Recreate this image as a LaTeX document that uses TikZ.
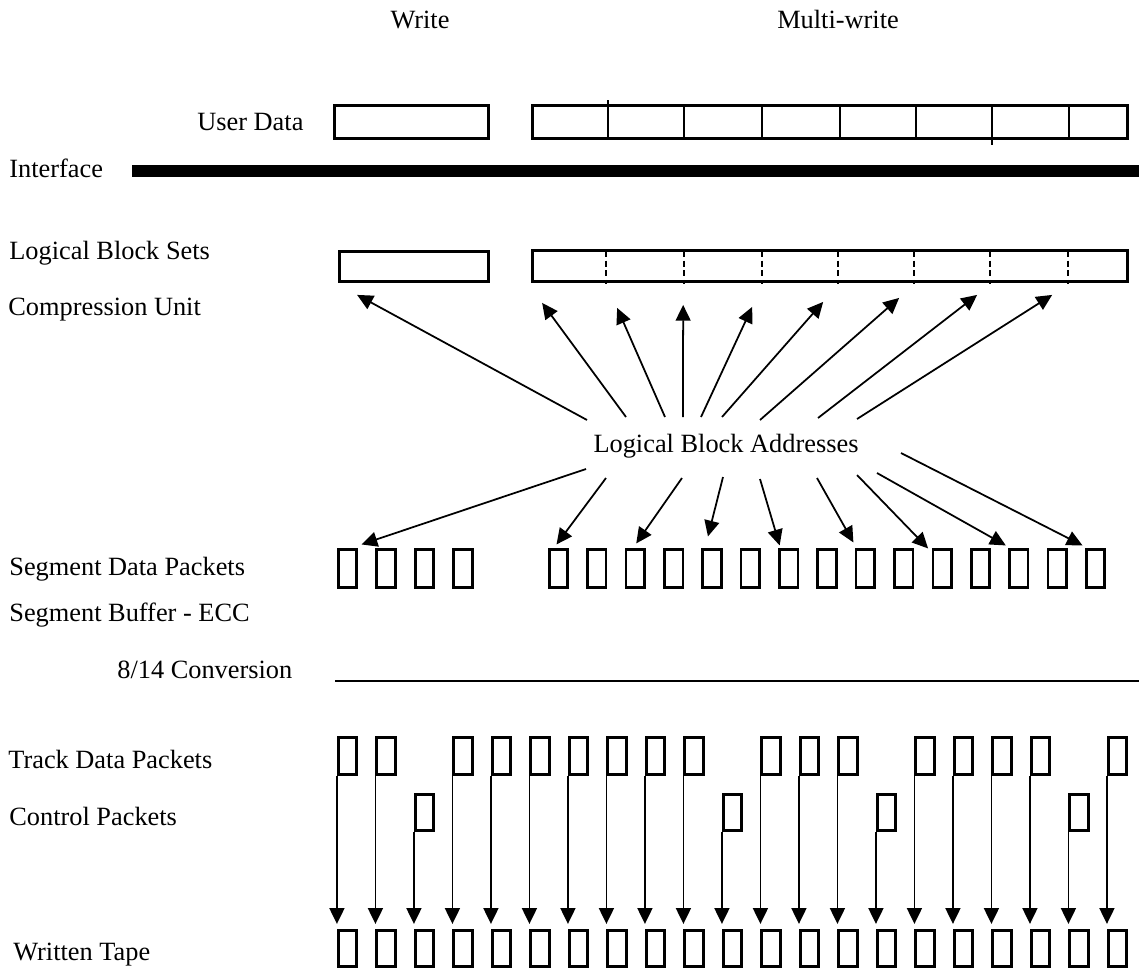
\documentclass[tikz,border=0pt]{standalone}
\usepackage{fontspec}
\setmainfont{Liberation Serif}
\usetikzlibrary{arrows.meta, calc}

\tikzset{
	lbl/.style={anchor=base west, inner sep=0pt, font=\fontsize{15}{18}\selectfont},
	hdr/.style={anchor=base, inner sep=0pt, font=\fontsize{15}{18}\selectfont},
	setbox/.style={draw, rectangle, line width=1.6pt, inner sep=0pt},
	pkt/.style={draw, rectangle, line width=1.5pt, inner sep=0pt, minimum width=0.37cm, minimum height=0.73cm},
	arr/.style={line width=1pt, -{Triangle[width=8.5pt, length=9pt]}},
}

\begin{document}
\begin{tikzpicture}[x=0.02cm, y=-0.02cm]
	\useasboundingbox (0,0) rectangle (1139,971);
	% Labels:
	\node[hdr] (hwrite) at (420,28) {Write};
	\node[hdr] (hmulti) at (838,28) {Multi-write};
	\node[lbl] (userdata) at (197,130) {User Data};
	\node[lbl] (iface) at (9,177) {Interface};
	\node[lbl] (lbsets) at (9,259) {Logical Block Sets};
	\node[lbl] (compr) at (8,315) {Compression Unit};
	\node[hdr] (lba) at (726,452) {Logical Block Addresses};
	\node[lbl] (segdata) at (9,575) {Segment Data Packets};
	\node[lbl] (segbuf) at (9,621) {Segment Buffer - ECC};
	\node[lbl] (conv) at (117,678) {8/14 Conversion};
	\node[lbl] (trkdata) at (8,768) {Track Data Packets};
	\node[lbl] (ctrl) at (9,825) {Control Packets};
	\node[lbl] (tape) at (13,960) {Written Tape};
	% User data and logical block sets:
	\node[setbox, minimum width=3.08cm, minimum height=0.66cm] (udw) at (411.5,122) {};
	\node[setbox, minimum width=11.9cm, minimum height=0.66cm] (udm) at (830,122) {};
	\foreach \dx in {684,762,840,916,1069}
		\draw[line width=1.6pt] (\dx,104) -- (\dx,140);
	\draw[line width=1.6pt] (608,100) -- (608,140);
	\draw[line width=1.6pt] (992,106) -- (992,145);
	\fill (132,165) rectangle (1139,177);
	\node[setbox, minimum width=2.98cm, minimum height=0.6cm] (lbsw) at (414,266.5) {};
	\node[setbox, minimum width=11.9cm, minimum height=0.62cm] (lbsm) at (830,266) {};
	\foreach \dx in {606,684,762,838,914,990,1068}
		\draw[line width=1.2pt, dash pattern=on 3.5pt off 2pt] (\dx,251) -- (\dx,284);
	% Arrows from the addresses:
	\draw[arr] ($(lba.base)+(-139,-32)$) -- ($(lbsw.south west)+(19,12)$);
	\foreach \tx/\ty/\hx/\hy in {-100/-35/11/20, -61/-35/86/25, -43/-35/152/22, -25/-35/221/24, -4/-35/292/19, 34/-32/368/15, 92/-34/446/12, 131/-33/521/12}
		\draw[arr] ($(lba.base)+(\tx,\ty)$) -- ($(lbsm.south west)+(\hx,\hy)$);
	% Segment data packets:
	\foreach \j in {1,...,4}
		\node[pkt, minimum height=0.75cm] (segw\j) at ({347.5+38.5*(\j-1)},568.5) {};
	\foreach \k in {1,...,15}
		\node[pkt, minimum height=0.75cm] (segm\k) at ({558.5+38.36*(\k-1)},568.5) {};
	\foreach \tx/\ty/\tgt/\hx/\hy in {-140/17/segw1/14/-4, -120/26/segm1/-2/-4, -44/26/segm3/1/-5, -3/25/segm5/-4/-12, 34/27/segm7/-9/-3, 91/26/segm9/-12/-6, 131/23/segm11/-14/0, 151/21/segm13/-13/-3, 175/1/segm15/-13/-3}
		\draw[arr] ($(lba.base)+(\tx,\ty)$) -- ($(\tgt.north)+(\hx,\hy)$);
	\draw[line width=1.3pt] (335,681) -- (1139,681);
	% Track data, control packets and tape:
	\foreach \i in {0,1,3,4,5,6,7,8,9,11,12,13,15,16,17,18,20}
		\node[pkt] (pk\i) at ({347.5+38.5*\i},756) {};
	\foreach \i in {2,10,14,19}
		\node[pkt] (pk\i) at ({347.5+38.5*\i},812.5) {};
	\foreach \i in {0,...,20}
		\node[pkt] (tp\i) at ({347.5+38.5*\i},948.5) {};
	\foreach \i in {0,...,20}
		\draw[arr] (pk\i.south west) -- ([yshift=0.1cm]tp\i.north west);
\end{tikzpicture}
\end{document}
